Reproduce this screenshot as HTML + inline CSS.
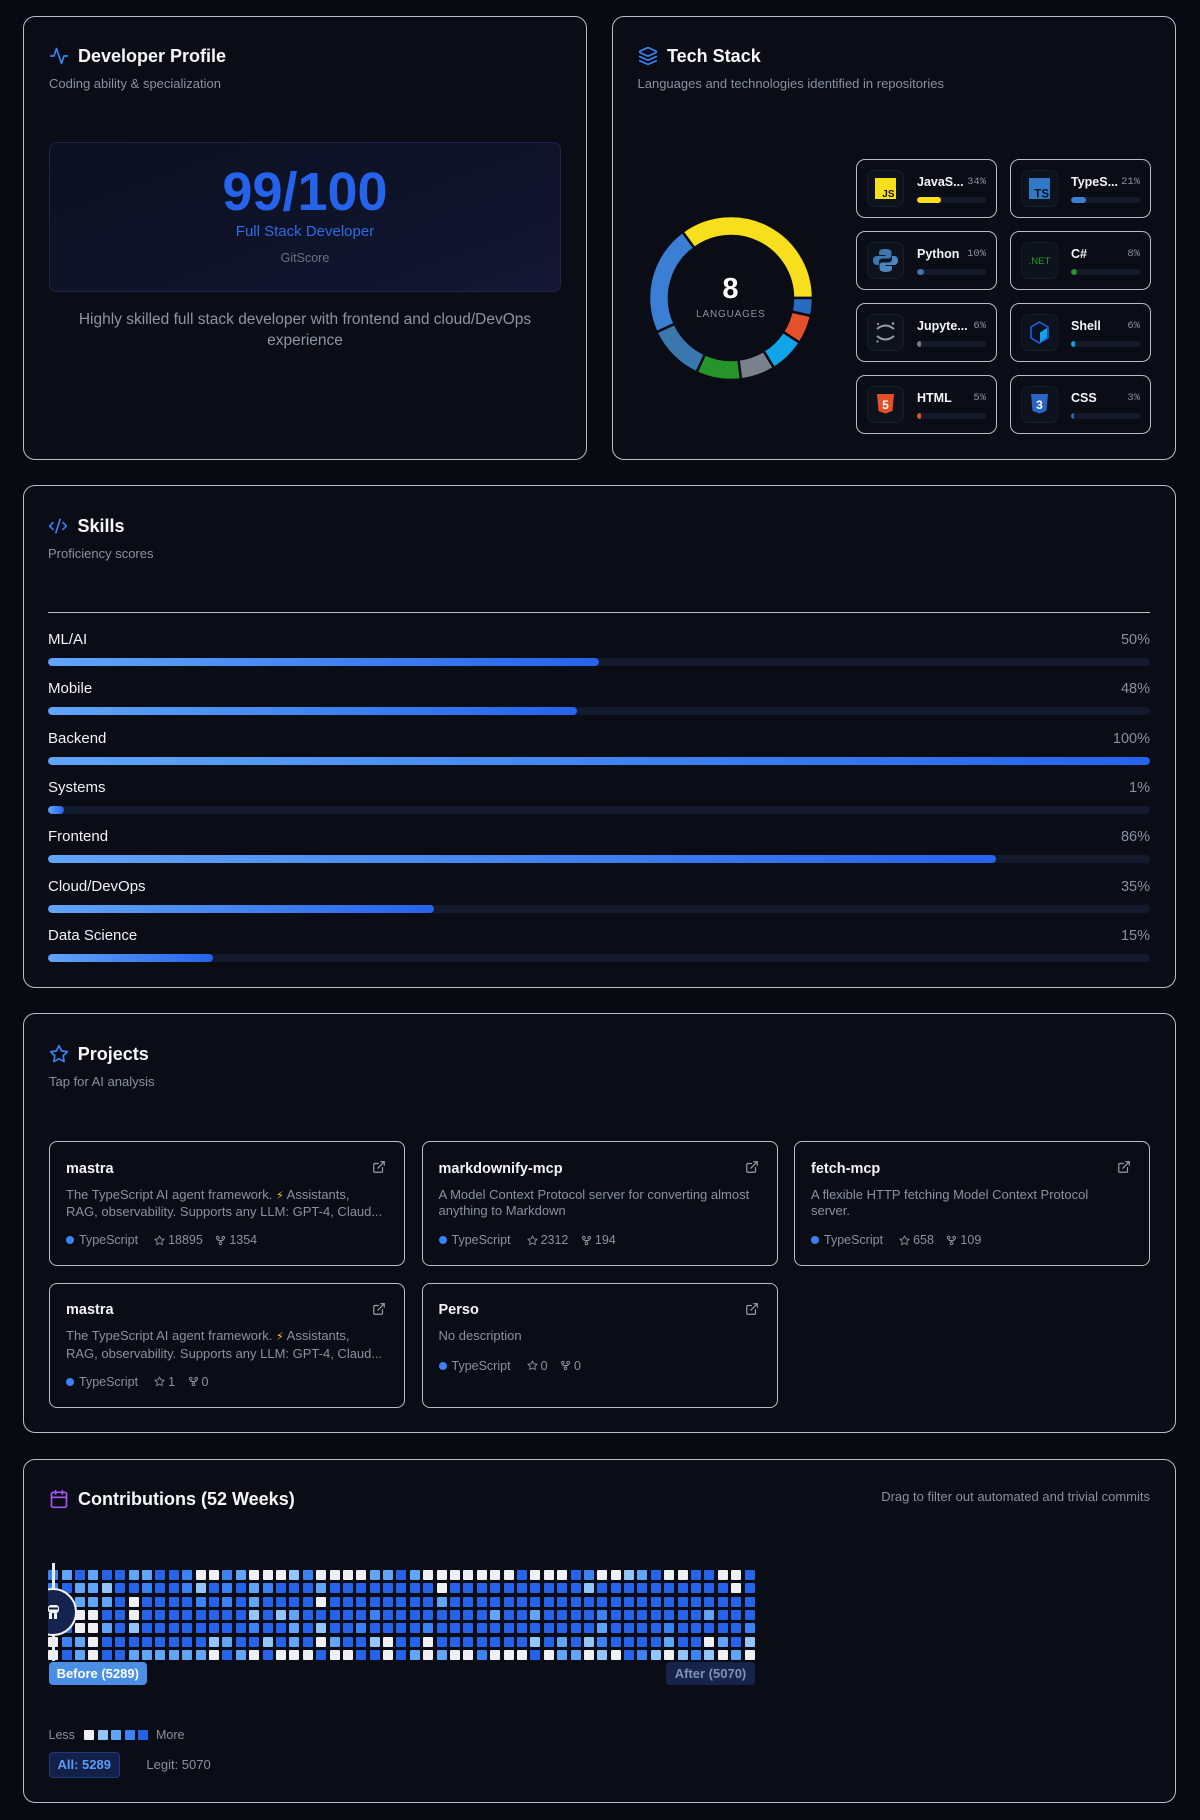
<!DOCTYPE html>
<html><head><meta charset="utf-8">
<style>
*{box-sizing:border-box;margin:0;padding:0}
html,body{width:1200px;height:1820px;background:#070a11;overflow:hidden}
body{position:relative;font-family:"Liberation Sans",Arial,sans-serif;color:#f3f4f6}
.a{position:absolute}
.card{position:absolute;background:#0a0d16;border:1px solid #b9bdc4;border-radius:12px}
.t{position:absolute;font-size:18px;font-weight:700;line-height:20px;color:#f5f6f8;white-space:nowrap}
.s{position:absolute;font-size:13px;line-height:18px;color:#8b90a0;white-space:nowrap}
.ico{position:absolute;width:20px;height:20px;fill:none;stroke:#3b82f6;stroke-width:2;stroke-linecap:round;stroke-linejoin:round}
.lc{position:absolute;width:141px;height:59px;border:1px solid #b9bdc4;border-radius:9px;background:#0a0d16}
.ib{position:absolute;left:10px;top:10px;width:37px;height:37px;border-radius:7px;background:#0e121c;box-shadow:inset 0 0 0 1px #171d2b}
.ib svg{position:absolute;left:0;top:0;width:37px;height:37px}
.ln{position:absolute;left:60px;top:14px;line-height:16px;font-size:12.5px;font-weight:700;color:#f3f4f6;white-space:nowrap}
.lp{position:absolute;right:10px;top:15px;line-height:14px;font-size:10.5px;font-family:"Liberation Mono",monospace;color:#8b90a0}
.lt{position:absolute;left:60px;top:37px;width:69px;height:6px;border-radius:3px;background:#141a28;overflow:hidden}
.lt div{height:6px;border-radius:3px}
.sl{position:absolute;left:48px;font-size:15px;line-height:20px;color:#f0f2f5;white-space:nowrap}
.sp{position:absolute;right:50px;font-size:14.5px;line-height:20px;color:#8b90a0}
.st{position:absolute;left:48px;width:1102px;height:8px;border-radius:4px;background:#131a2d;overflow:hidden}
.st div{height:8px;border-radius:4px;background:linear-gradient(90deg,#60a5fa,#2563eb)}
.pc{position:absolute;width:356px;height:125px;border:1px solid #b9bdc4;border-radius:8px;background:#0a0d16}
.pn{position:absolute;left:16px;top:17.6px;font-size:14.5px;font-weight:700;line-height:18px;color:#f3f4f6;white-space:nowrap}
.pd{position:absolute;left:16px;top:44.7px;font-size:13px;line-height:16.6px;color:#8b90a0;white-space:nowrap}
.ex{position:absolute;left:322px;top:18px;width:14px;height:14px;fill:none;stroke:#9aa0aa;stroke-width:2;stroke-linecap:round;stroke-linejoin:round}
.meta{position:absolute;left:16px;top:90.3px;display:flex;align-items:center;font-size:12.5px;line-height:16px;color:#8b90a0;white-space:nowrap}
.dot{width:8px;height:8px;border-radius:50%;background:#3b82f6;margin-right:5px}
.mi{width:11px;height:11px;margin-left:16px;margin-right:3px;fill:none;stroke:#8b90a0;stroke-width:2;stroke-linecap:round;stroke-linejoin:round}
.mi.f{margin-left:12.5px}
.grid{position:absolute;left:48.3px;top:1570px;display:grid;grid-template-columns:repeat(53,10px);grid-auto-rows:10px;column-gap:3.4px;row-gap:3.33px}
.grid i{display:block;background:#2563eb;border-radius:1px}
.grid i.b,.lg.b{background:#3b82f6}
.grid i.m,.lg.m{background:#60a5fa}
.grid i.l,.lg.l{background:#93c5fd}
.grid i.w,.lg.w{background:#eef0f3}
.lg{position:absolute;top:1730px;width:10px;height:10px;background:#2563eb;border-radius:1px}
</style></head><body>

<!-- Developer Profile -->
<div class="card" style="left:23px;top:16px;width:564px;height:444px"></div>
<svg class="ico" style="left:49px;top:46px" viewBox="0 0 24 24"><path d="M22 12h-4l-3 9L9 3l-3 9H2"/></svg>
<div class="t" style="left:78px;top:46px">Developer Profile</div>
<div class="s" style="left:49px;top:75px">Coding ability &amp; specialization</div>
<div class="a" style="left:49px;top:142px;width:512px;height:150px;border:1px solid #26224d;border-radius:8px;background:linear-gradient(160deg,#0c1020 0%,#0f1328 50%,#121633 100%)"></div>
<div class="a" style="left:49px;top:162px;width:512px;text-align:center;font-size:54px;font-weight:700;line-height:60px;color:#2563eb">99/100</div>
<div class="a" style="left:49px;top:222px;width:512px;text-align:center;font-size:15px;line-height:20px;color:#2f6ae8">Full Stack Developer</div>
<div class="a" style="left:49px;top:249px;width:512px;text-align:center;font-size:12.5px;line-height:18px;color:#6b7180">GitScore</div>
<div class="a" style="left:49px;top:308.5px;width:512px;text-align:center;font-size:15.5px;line-height:21px;color:#8f94a3;white-space:nowrap">Highly skilled full stack developer with frontend and cloud/DevOps<br>experience</div>

<!-- Tech Stack -->
<div class="card" style="left:612px;top:16px;width:564px;height:444px"></div>
<svg class="ico" style="left:638px;top:46px" viewBox="0 0 24 24"><path d="m12.83 2.18a2 2 0 0 0-1.66 0L2.6 6.08a1 1 0 0 0 0 1.83l8.58 3.91a2 2 0 0 0 1.66 0l8.58-3.9a1 1 0 0 0 0-1.83Z"/><path d="m22 17.65-9.17 4.16a2 2 0 0 1-1.66 0L2 17.65"/><path d="m22 12.65-9.17 4.16a2 2 0 0 1-1.66 0L2 12.65"/></svg>
<div class="t" style="left:667px;top:46px">Tech Stack</div>
<div class="s" style="left:637.5px;top:75px">Languages and technologies identified in repositories</div>

<svg class="a" style="left:645.5px;top:212.5px" width="170" height="170" viewBox="0 0 170 170">
<g stroke="#0a0d16" stroke-width="2.5" stroke-linejoin="miter">
<path fill="#f7df1e" d="M167,85 A82,82 0 0 0 36.46,18.92 L48.30,35.03 A62,62 0 0 1 147,85 Z"/>
<path fill="#3a7fd3" d="M36.46,18.92 A82,82 0 0 0 10.50,119.27 L28.67,110.91 A62,62 0 0 1 48.30,35.03 Z"/>
<path fill="#3a77ae" d="M10.50,119.27 A82,82 0 0 0 50.60,159.44 L58.99,141.28 A62,62 0 0 1 28.67,110.91 Z"/>
<path fill="#25952a" d="M50.60,159.44 A82,82 0 0 0 95,166.39 L92.56,146.54 A62,62 0 0 1 58.99,141.28 Z"/>
<path fill="#7a808c" d="M95,166.39 A82,82 0 0 0 127.97,154.84 L117.49,137.81 A62,62 0 0 1 92.56,146.54 Z"/>
<path fill="#10a5e8" d="M127.97,154.84 A82,82 0 0 0 153.77,129.66 L137,118.77 A62,62 0 0 1 117.49,137.81 Z"/>
<path fill="#e4502a" d="M153.77,129.66 A82,82 0 0 0 165.02,102.88 L145.51,98.52 A62,62 0 0 1 137,118.77 Z"/>
<path fill="#2a6bc2" d="M165.02,102.88 A82,82 0 0 0 167,85 L147,85 A62,62 0 0 1 145.51,98.52 Z"/>
</g></svg>
<div class="a" style="left:680.5px;top:273px;width:100px;text-align:center;font-size:29px;font-weight:700;line-height:32px;color:#fff">8</div>
<div class="a" style="left:680.5px;top:308px;width:100px;text-align:center;font-size:10px;line-height:14px;letter-spacing:0.8px;padding-left:0.8px;color:#8b90a0">LANGUAGES</div>

<div class="lc" style="left:856px;top:159px"><div class="ib"><svg viewBox="0 0 37 37"><rect x="8" y="8" width="21" height="21" fill="#f7df1e"/><text x="27.5" y="27" font-size="10" font-weight="700" text-anchor="end" fill="#111" font-family="Liberation Sans">JS</text></svg></div><div class="ln">JavaS...</div><div class="lp">34%</div><div class="lt"><div style="width:24px;background:#f7df1e"></div></div></div>
<div class="lc" style="left:1010px;top:159px"><div class="ib"><svg viewBox="0 0 37 37"><rect x="8" y="8" width="21" height="21" fill="#3178c6"/><text x="28" y="27.5" font-size="11.5" font-weight="700" text-anchor="end" fill="#0b1020" font-family="Liberation Sans">TS</text></svg></div><div class="ln">TypeS...</div><div class="lp">21%</div><div class="lt"><div style="width:15px;background:#3a7fd3"></div></div></div>
<div class="lc" style="left:856px;top:231px"><div class="ib"><svg viewBox="0 0 37 37"><path fill="#3b77b0" d="M18 7c-4 0-6 1-6 3.5V13h6.5v1H10c-2.5 0-4 1.7-4 4.5S7.5 23 10 23h2v-3c0-2 1.5-3.5 3.5-3.5h6c1.7 0 3-1.3 3-3V10.5C24.5 8 22 7 18 7z"/><path fill="#4a86c0" d="M19 30c4 0 6-1 6-3.5V24h-6.5v-1H27c2.5 0 4-1.7 4-4.5S29.5 14 27 14h-2v3c0 2-1.5 3.5-3.5 3.5h-6c-1.7 0-3 1.3-3 3v2.5C12.5 29 15 30 19 30z"/></svg></div><div class="ln">Python</div><div class="lp">10%</div><div class="lt"><div style="width:7px;background:#3a77ae"></div></div></div>
<div class="lc" style="left:1010px;top:231px"><div class="ib"><svg viewBox="0 0 37 37"><text x="18.5" y="22" font-size="9.5" text-anchor="middle" fill="#2d9b2d" font-family="Liberation Sans">.NET</text></svg></div><div class="ln">C#</div><div class="lp">8%</div><div class="lt"><div style="width:6px;background:#25952a"></div></div></div>
<div class="lc" style="left:856px;top:303px"><div class="ib"><svg viewBox="0 0 37 37"><path d="M10 15 Q18.5 8 27 15" stroke="#9aa0aa" stroke-width="2" fill="none"/><path d="M10 22 Q18.5 29 27 22" stroke="#9aa0aa" stroke-width="2" fill="none"/><circle cx="11" cy="10" r="1.1" fill="#9aa0aa"/><circle cx="26" cy="9.5" r="1.3" fill="#9aa0aa"/><circle cx="10.5" cy="27.5" r="1.1" fill="#9aa0aa"/></svg></div><div class="ln">Jupyte...</div><div class="lp">6%</div><div class="lt"><div style="width:4px;background:#7a808c"></div></div></div>
<div class="lc" style="left:1010px;top:303px"><div class="ib"><svg viewBox="0 0 37 37"><polygon points="18.5,8 27,13 27,24 18.5,29 10,24 10,13" fill="#0b1226" stroke="#2563eb" stroke-width="1.5"/><polygon points="19,18.5 26,14 26,23.5 19,28" fill="#0ea5e9"/></svg></div><div class="ln">Shell</div><div class="lp">6%</div><div class="lt"><div style="width:4px;background:#10a5e8"></div></div></div>
<div class="lc" style="left:856px;top:375px"><div class="ib"><svg viewBox="0 0 37 37"><path d="M10 8h17l-1.5 17-7 2.5-7-2.5z" fill="#e34f26"/><text x="18.5" y="23" font-size="12" font-weight="700" text-anchor="middle" fill="#fff" font-family="Liberation Sans">5</text></svg></div><div class="ln">HTML</div><div class="lp">5%</div><div class="lt"><div style="width:3.5px;background:#e4502a"></div></div></div>
<div class="lc" style="left:1010px;top:375px"><div class="ib"><svg viewBox="0 0 37 37"><path d="M10 8h17l-1.5 17-7 2.5-7-2.5z" fill="#2965c1"/><text x="18.5" y="23" font-size="12" font-weight="700" text-anchor="middle" fill="#fff" font-family="Liberation Sans">3</text></svg></div><div class="ln">CSS</div><div class="lp">3%</div><div class="lt"><div style="width:2.5px;background:#2a6bc2"></div></div></div>

<!-- Skills -->
<div class="card" style="left:23px;top:485px;width:1153px;height:503px"></div>
<svg class="ico" style="left:48px;top:516px" viewBox="0 0 24 24"><path d="m18 16 4-4-4-4"/><path d="m6 8-4 4 4 4"/><path d="m14.5 4-5 16"/></svg>
<div class="t" style="left:77.5px;top:516px">Skills</div>
<div class="s" style="left:48px;top:545px">Proficiency scores</div>
<div class="a" style="left:48px;top:611.5px;width:1102px;height:1px;background:#b9bdc4"></div>

<div class="sl" style="top:630px">ML/AI</div><div class="sp" style="top:630px">50%</div><div class="st" style="top:658px"><div style="width:551px"></div></div>
<div class="sl" style="top:679.3px">Mobile</div><div class="sp" style="top:679.3px">48%</div><div class="st" style="top:707.3px"><div style="width:529px"></div></div>
<div class="sl" style="top:728.7px">Backend</div><div class="sp" style="top:728.7px">100%</div><div class="st" style="top:756.7px"><div style="width:1102px"></div></div>
<div class="sl" style="top:778px">Systems</div><div class="sp" style="top:778px">1%</div><div class="st" style="top:806px"><div style="width:16px"></div></div>
<div class="sl" style="top:827.3px">Frontend</div><div class="sp" style="top:827.3px">86%</div><div class="st" style="top:855.3px"><div style="width:948px"></div></div>
<div class="sl" style="top:876.7px">Cloud/DevOps</div><div class="sp" style="top:876.7px">35%</div><div class="st" style="top:904.7px"><div style="width:386px"></div></div>
<div class="sl" style="top:926px">Data Science</div><div class="sp" style="top:926px">15%</div><div class="st" style="top:954px"><div style="width:165px"></div></div>

<!-- Projects -->
<div class="card" style="left:23px;top:1013px;width:1153px;height:420px"></div>
<svg class="ico" style="left:49px;top:1044px" viewBox="0 0 24 24"><polygon points="12 2 15.09 8.26 22 9.27 17 14.14 18.18 21.02 12 17.77 5.82 21.02 7 14.14 2 9.27 8.91 8.26 12 2"/></svg>
<div class="t" style="left:77.7px;top:1044px">Projects</div>
<div class="s" style="left:49px;top:1073px">Tap for AI analysis</div>

<div class="pc" style="left:49px;top:1141px">
<div class="pn">mastra</div>
<svg class="ex" viewBox="0 0 24 24"><path d="M15 3h6v6"/><path d="M10 14 21 3"/><path d="M18 13v6a2 2 0 0 1-2 2H5a2 2 0 0 1-2-2V8a2 2 0 0 1 2-2h6"/></svg>
<div class="pd">The TypeScript AI agent framework. <span style="color:#facc15;font-family:'DejaVu Sans',sans-serif;font-size:11px">⚡</span> Assistants,<br>RAG, observability. Supports any LLM: GPT-4, Claud...</div>
<div class="meta"><span class="dot"></span><span>TypeScript</span><svg class="mi" viewBox="0 0 24 24"><polygon points="12 2 15.09 8.26 22 9.27 17 14.14 18.18 21.02 12 17.77 5.82 21.02 7 14.14 2 9.27 8.91 8.26 12 2"/></svg><span>18895</span><svg class="mi f" viewBox="0 0 24 24"><circle cx="12" cy="18" r="3"/><circle cx="6" cy="6" r="3"/><circle cx="18" cy="6" r="3"/><path d="M18 9v2c0 .6-.4 1-1 1H7c-.6 0-1-.4-1-1V9"/><path d="M12 12v3"/></svg><span>1354</span></div>
</div>

<div class="pc" style="left:421.5px;top:1141px">
<div class="pn">markdownify-mcp</div>
<svg class="ex" viewBox="0 0 24 24"><path d="M15 3h6v6"/><path d="M10 14 21 3"/><path d="M18 13v6a2 2 0 0 1-2 2H5a2 2 0 0 1-2-2V8a2 2 0 0 1 2-2h6"/></svg>
<div class="pd">A Model Context Protocol server for converting almost<br>anything to Markdown</div>
<div class="meta"><span class="dot"></span><span>TypeScript</span><svg class="mi" viewBox="0 0 24 24"><polygon points="12 2 15.09 8.26 22 9.27 17 14.14 18.18 21.02 12 17.77 5.82 21.02 7 14.14 2 9.27 8.91 8.26 12 2"/></svg><span>2312</span><svg class="mi f" viewBox="0 0 24 24"><circle cx="12" cy="18" r="3"/><circle cx="6" cy="6" r="3"/><circle cx="18" cy="6" r="3"/><path d="M18 9v2c0 .6-.4 1-1 1H7c-.6 0-1-.4-1-1V9"/><path d="M12 12v3"/></svg><span>194</span></div>
</div>

<div class="pc" style="left:794px;top:1141px">
<div class="pn">fetch-mcp</div>
<svg class="ex" viewBox="0 0 24 24"><path d="M15 3h6v6"/><path d="M10 14 21 3"/><path d="M18 13v6a2 2 0 0 1-2 2H5a2 2 0 0 1-2-2V8a2 2 0 0 1 2-2h6"/></svg>
<div class="pd">A flexible HTTP fetching Model Context Protocol<br>server.</div>
<div class="meta"><span class="dot"></span><span>TypeScript</span><svg class="mi" viewBox="0 0 24 24"><polygon points="12 2 15.09 8.26 22 9.27 17 14.14 18.18 21.02 12 17.77 5.82 21.02 7 14.14 2 9.27 8.91 8.26 12 2"/></svg><span>658</span><svg class="mi f" viewBox="0 0 24 24"><circle cx="12" cy="18" r="3"/><circle cx="6" cy="6" r="3"/><circle cx="18" cy="6" r="3"/><path d="M18 9v2c0 .6-.4 1-1 1H7c-.6 0-1-.4-1-1V9"/><path d="M12 12v3"/></svg><span>109</span></div>
</div>

<div class="pc" style="left:49px;top:1282.5px">
<div class="pn">mastra</div>
<svg class="ex" viewBox="0 0 24 24"><path d="M15 3h6v6"/><path d="M10 14 21 3"/><path d="M18 13v6a2 2 0 0 1-2 2H5a2 2 0 0 1-2-2V8a2 2 0 0 1 2-2h6"/></svg>
<div class="pd">The TypeScript AI agent framework. <span style="color:#facc15;font-family:'DejaVu Sans',sans-serif;font-size:11px">⚡</span> Assistants,<br>RAG, observability. Supports any LLM: GPT-4, Claud...</div>
<div class="meta"><span class="dot"></span><span>TypeScript</span><svg class="mi" viewBox="0 0 24 24"><polygon points="12 2 15.09 8.26 22 9.27 17 14.14 18.18 21.02 12 17.77 5.82 21.02 7 14.14 2 9.27 8.91 8.26 12 2"/></svg><span>1</span><svg class="mi f" viewBox="0 0 24 24"><circle cx="12" cy="18" r="3"/><circle cx="6" cy="6" r="3"/><circle cx="18" cy="6" r="3"/><path d="M18 9v2c0 .6-.4 1-1 1H7c-.6 0-1-.4-1-1V9"/><path d="M12 12v3"/></svg><span>0</span></div>
</div>

<div class="pc" style="left:421.5px;top:1282.5px">
<div class="pn">Perso</div>
<svg class="ex" viewBox="0 0 24 24"><path d="M15 3h6v6"/><path d="M10 14 21 3"/><path d="M18 13v6a2 2 0 0 1-2 2H5a2 2 0 0 1-2-2V8a2 2 0 0 1 2-2h6"/></svg>
<div class="pd">No description</div>
<div class="meta" style="top:74.4px"><span class="dot"></span><span>TypeScript</span><svg class="mi" viewBox="0 0 24 24"><polygon points="12 2 15.09 8.26 22 9.27 17 14.14 18.18 21.02 12 17.77 5.82 21.02 7 14.14 2 9.27 8.91 8.26 12 2"/></svg><span>0</span><svg class="mi f" viewBox="0 0 24 24"><circle cx="12" cy="18" r="3"/><circle cx="6" cy="6" r="3"/><circle cx="18" cy="6" r="3"/><path d="M18 9v2c0 .6-.4 1-1 1H7c-.6 0-1-.4-1-1V9"/><path d="M12 12v3"/></svg><span>0</span></div>
</div>

<!-- Contributions -->
<div class="card" style="left:23px;top:1459px;width:1153px;height:344px"></div>
<svg class="ico" style="left:49px;top:1489px;stroke:#a855f7" viewBox="0 0 24 24"><rect width="18" height="18" x="3" y="4" rx="2"/><path d="M16 2v4"/><path d="M8 2v4"/><path d="M3 10h18"/></svg>
<div class="t" style="left:78px;top:1489px">Contributions (52 Weeks)</div>
<div class="s" style="right:50px;top:1488px">Drag to filter out automated and trivial commits</div>

<div class="grid">
<i class=b></i><i class=m></i><i></i><i class=m></i><i></i><i></i><i class=m></i><i class=m></i><i></i><i></i>
<i class=b></i><i class=w></i><i class=w></i><i class=b></i><i class=m></i><i class=w></i><i class=w></i><i class=w></i><i class=l></i><i class=b></i>
<i class=w></i><i class=w></i><i class=w></i><i class=w></i><i class=m></i><i class=m></i><i></i>
<i class=m></i><i class=w></i><i class=w></i><i class=w></i><i class=w></i><i class=w></i><i class=w></i><i class=w></i><i></i><i class=w></i>
<i class=w></i><i class=w></i><i></i><i class=b></i><i class=w></i><i class=w></i><i class=l></i><i class=m></i><i></i><i class=w></i>
<i class=w></i><i></i><i></i><i class=w></i><i class=w></i><i></i>

<i class=b></i><i></i><i class=m></i><i class=m></i><i class=l></i><i></i><i></i><i class=b></i><i></i><i></i>
<i class=b></i><i class=l></i><i></i><i class=b></i><i></i><i class=m></i><i class=b></i><i></i><i></i><i></i>
<i class=m></i><i></i><i></i><i></i><i></i><i></i><i></i>
<i></i><i></i><i class=w></i><i></i><i></i><i></i><i></i><i></i><i></i><i></i>
<i></i><i></i><i></i><i class=l></i><i></i><i></i><i></i><i></i><i></i><i></i>
<i></i><i></i><i></i><i></i><i class=w></i><i></i>

<i></i><i></i><i class=m></i><i class=m></i><i class=m></i><i></i><i class=w></i><i></i><i></i><i></i>
<i></i><i class=b></i><i></i><i class=b></i><i></i><i class=m></i><i></i><i></i><i></i><i></i>
<i class=w></i><i></i><i></i><i></i><i></i><i></i><i></i>
<i></i><i></i><i class=m></i><i></i><i></i><i></i><i></i><i></i><i></i><i></i>
<i></i><i></i><i></i><i></i><i></i><i></i><i></i><i></i><i></i><i></i>
<i></i><i></i><i></i><i></i><i></i><i></i>

<i></i><i></i><i class=w></i><i class=w></i><i></i><i></i><i class=w></i><i></i><i></i><i></i>
<i></i><i></i><i></i><i></i><i></i><i class=l></i><i></i><i class=l></i><i class=m></i><i></i>
<i></i><i></i><i></i><i></i><i class=b></i><i></i><i></i>
<i></i><i></i><i></i><i></i><i></i><i></i><i class=m></i><i></i><i></i><i class=m></i>
<i></i><i></i><i></i><i></i><i class=b></i><i></i><i></i><i></i><i></i><i></i>
<i></i><i></i><i class=m></i><i></i><i></i><i></i>

<i></i><i></i><i class=w></i><i class=w></i><i class=m></i><i></i><i class=l></i><i></i><i></i><i></i>
<i></i><i></i><i></i><i></i><i></i><i class=b></i><i></i><i></i><i class=m></i><i></i>
<i class=l></i><i></i><i></i><i class=b></i><i></i><i></i><i></i>
<i></i><i class=b></i><i></i><i></i><i></i><i></i><i></i><i></i><i></i><i></i>
<i></i><i></i><i></i><i></i><i class=m></i><i></i><i></i><i></i><i></i><i class=b></i>
<i></i><i></i><i></i><i></i><i></i><i class=b></i>

<i class=w></i><i class=b></i><i class=m></i><i class=w></i><i></i><i></i><i></i><i></i><i></i><i></i>
<i></i><i></i><i class=l></i><i class=m></i><i></i><i></i><i class=l></i><i></i><i class=m></i><i></i>
<i class=w></i><i class=m></i><i></i><i></i><i class=l></i><i class=w></i><i></i>
<i></i><i class=w></i><i></i><i></i><i></i><i></i><i></i><i></i><i></i><i class=l></i>
<i></i><i class=m></i><i></i><i class=l></i><i class=b></i><i></i><i></i><i></i><i></i><i class=m></i>
<i></i><i></i><i class=w></i><i class=m></i><i></i><i class=l></i>

<i class=w></i><i></i><i class=m></i><i class=w></i><i></i><i></i><i class=m></i><i class=m></i><i class=m></i><i class=m></i>
<i class=m></i><i class=m></i><i class=w></i><i></i><i class=m></i><i class=w></i><i></i><i class=w></i><i class=w></i><i class=w></i>
<i></i><i class=w></i><i class=w></i><i></i><i></i><i class=w></i><i></i>
<i class=m></i><i class=w></i><i class=m></i><i class=w></i><i class=w></i><i class=b></i><i class=w></i><i class=w></i><i class=w></i><i></i>
<i class=w></i><i class=m></i><i class=m></i><i class=w></i><i class=l></i><i class=w></i><i></i><i class=b></i><i class=l></i><i class=w></i>
<i class=l></i><i class=b></i><i class=l></i><i class=w></i><i class=m></i><i class=w></i>
</div>

<!-- slider -->
<div class="a" style="left:51.5px;top:1562.5px;width:3px;height:98px;background:#e8ebf0"></div>
<div class="a" style="left:48px;top:1580px;width:40px;height:70px;overflow:hidden">
  <div class="a" style="left:-19.3px;top:7.7px;width:48px;height:48px;border-radius:50%;background:#15244f;border:2px solid #eef0f4"></div>
  <svg class="a" style="left:0;top:22px" width="14" height="18" viewBox="0 0 14 18"><rect x="0" y="3" width="11" height="8" rx="3" fill="#f3f4f6"/><rect x="1" y="5.5" width="9" height="2" fill="#15244f"/><rect x="1" y="11" width="3" height="6" fill="#f3f4f6"/><rect x="6" y="11" width="3" height="6" fill="#f3f4f6"/></svg>
</div>
<div class="a" style="left:48.5px;top:1661.7px;width:98.5px;height:23.3px;background:#4a8fe3;border-radius:4px;color:#fff;font-size:13px;font-weight:700;line-height:23.3px;text-align:center;white-space:nowrap">Before (5289)</div>
<div class="a" style="left:666px;top:1661.7px;width:89px;height:23.3px;background:#16234a;border-radius:4px;color:#7d90b5;font-size:13px;font-weight:700;line-height:23.3px;text-align:center;white-space:nowrap">After (5070)</div>

<div class="s" style="left:48.5px;top:1726px;font-size:12.5px">Less</div>
<div class="lg w" style="left:84px"></div>
<div class="lg l" style="left:97.5px"></div>
<div class="lg m" style="left:111px"></div>
<div class="lg b" style="left:124.5px"></div>
<div class="lg" style="left:138px"></div>
<div class="s" style="left:156px;top:1726px;font-size:12.5px">More</div>

<div class="a" style="left:48.5px;top:1752px;width:71.5px;height:26px;background:#13214a;border:1px solid #1f3a7a;border-radius:4px;color:#5b9cf5;font-size:13px;font-weight:700;line-height:24px;text-align:center;white-space:nowrap">All: 5289</div>
<div class="s" style="left:146.4px;top:1756px">Legit: 5070</div>

</body></html>
